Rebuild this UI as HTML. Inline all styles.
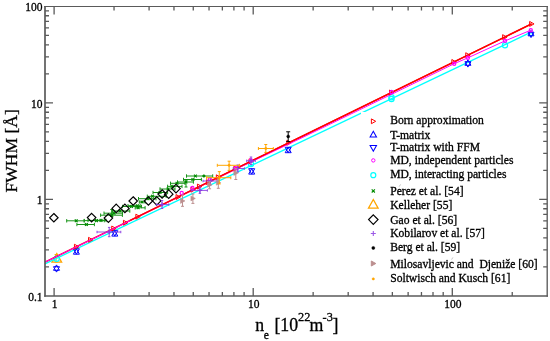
<!DOCTYPE html><html><head><meta charset="utf-8"><style>html,body{margin:0;padding:0;background:#fff;}svg{display:block;will-change:transform;}text{font-family:"Liberation Serif",serif;fill:#000;stroke:#000;stroke-width:0.3px;}</style></head><body>
<svg width="550" height="341" viewBox="0 0 550 341">
<rect x="0" y="0" width="550" height="341" fill="#fff"/>
<path d="M56.1 254.5L56.1 262M54.6 254.5L57.6 254.5M54.6 262L57.6 262" stroke="#ffa500" stroke-width="1"/>
<path d="M56.8 253.5L61.6 262.14L52 262.14Z" fill="none" stroke="#ffa500" stroke-width="1.3"/>
<polyline fill="none" stroke="#00ffff" stroke-width="1.3" stroke-linejoin="round" points="45,263.8 531,32.2"/>
<circle cx="56.7" cy="258.8" r="2.6" fill="none" stroke="#00ffff" stroke-width="1.2"/>
<circle cx="251" cy="164" r="2.6" fill="none" stroke="#00ffff" stroke-width="1.2"/>
<circle cx="391.5" cy="97.2" r="2.6" fill="none" stroke="#00ffff" stroke-width="1.2"/>
<circle cx="391.5" cy="99" r="2.6" fill="none" stroke="#00ffff" stroke-width="1.2"/>
<circle cx="505" cy="45.2" r="2.6" fill="none" stroke="#00ffff" stroke-width="1.2"/>
<circle cx="531" cy="34.2" r="1.5" fill="none" stroke="#00ffff" stroke-width="1.2"/>
<path d="M56.5 264.9L59.5 270.3L53.5 270.3Z" fill="none" stroke="#0000ff" stroke-width="1.0"/>
<path d="M76.4 248.8L79.4 254.2L73.4 254.2Z" fill="none" stroke="#0000ff" stroke-width="1.0"/>
<path d="M114.8 230.7L117.8 236.1L111.8 236.1Z" fill="none" stroke="#0000ff" stroke-width="1.0"/>
<path d="M251.7 168.7L254.7 174.1L248.7 174.1Z" fill="none" stroke="#0000ff" stroke-width="1.0"/>
<path d="M288.2 147.3L291.2 152.7L285.2 152.7Z" fill="none" stroke="#0000ff" stroke-width="1.0"/>
<path d="M467.9 59.9L470.9 65.3L464.9 65.3Z" fill="none" stroke="#0000ff" stroke-width="1.0"/>
<path d="M531 30.4L534 35.8L528 35.8Z" fill="none" stroke="#0000ff" stroke-width="1.0"/>
<path d="M56.5 272.1L59.5 266.7L53.5 266.7Z" fill="none" stroke="#0000ff" stroke-width="1.0"/>
<path d="M76.4 254.2L79.4 248.8L73.4 248.8Z" fill="none" stroke="#0000ff" stroke-width="1.0"/>
<path d="M114.8 236.1L117.8 230.7L111.8 230.7Z" fill="none" stroke="#0000ff" stroke-width="1.0"/>
<path d="M251.7 174.1L254.7 168.7L248.7 168.7Z" fill="none" stroke="#0000ff" stroke-width="1.0"/>
<path d="M288.2 152.7L291.2 147.3L285.2 147.3Z" fill="none" stroke="#0000ff" stroke-width="1.0"/>
<path d="M467.9 67.1L470.9 61.7L464.9 61.7Z" fill="none" stroke="#0000ff" stroke-width="1.0"/>
<path d="M531 37.6L534 32.2L528 32.2Z" fill="none" stroke="#0000ff" stroke-width="1.0"/>
<polyline fill="none" stroke="#ff0000" stroke-width="1.5" stroke-linejoin="round" points="45,262.1 531.6,23.9"/>
<path d="M74.44 244.28L78.85 246.73L74.44 249.18Z" fill="none" stroke="#ff0000" stroke-width="1.0"/>
<path d="M88.54 237.38L92.95 239.83L88.54 242.28Z" fill="none" stroke="#ff0000" stroke-width="1.0"/>
<path d="M111.74 226.02L116.15 228.47L111.74 230.92Z" fill="none" stroke="#ff0000" stroke-width="1.0"/>
<path d="M123.44 220.29L127.85 222.74L123.44 225.19Z" fill="none" stroke="#ff0000" stroke-width="1.0"/>
<path d="M135.84 214.22L140.25 216.67L135.84 219.12Z" fill="none" stroke="#ff0000" stroke-width="1.0"/>
<path d="M176.04 194.55L180.45 197L176.04 199.45Z" fill="none" stroke="#ff0000" stroke-width="1.0"/>
<path d="M190.94 187.25L195.35 189.7L190.94 192.15Z" fill="none" stroke="#ff0000" stroke-width="1.0"/>
<path d="M197.44 184.07L201.85 186.52L197.44 188.97Z" fill="none" stroke="#ff0000" stroke-width="1.0"/>
<path d="M206.44 179.67L210.85 182.12L206.44 184.57Z" fill="none" stroke="#ff0000" stroke-width="1.0"/>
<path d="M216.34 174.82L220.75 177.27L216.34 179.72Z" fill="none" stroke="#ff0000" stroke-width="1.0"/>
<path d="M233.84 166.25L238.25 168.7L233.84 171.15Z" fill="none" stroke="#ff0000" stroke-width="1.0"/>
<path d="M249.04 158.81L253.45 161.26L249.04 163.71Z" fill="none" stroke="#ff0000" stroke-width="1.0"/>
<path d="M286.84 140.31L291.25 142.76L286.84 145.21Z" fill="none" stroke="#ff0000" stroke-width="1.0"/>
<path d="M389.54 90.04L393.95 92.49L389.54 94.94Z" fill="none" stroke="#ff0000" stroke-width="1.0"/>
<path d="M451.84 59.54L456.25 61.99L451.84 64.44Z" fill="none" stroke="#ff0000" stroke-width="1.0"/>
<path d="M465.74 52.74L470.15 55.19L465.74 57.64Z" fill="none" stroke="#ff0000" stroke-width="1.0"/>
<path d="M502.64 34.68L507.05 37.13L502.64 39.58Z" fill="none" stroke="#ff0000" stroke-width="1.0"/>
<path d="M529.64 21.46L534.05 23.91L529.64 26.36Z" fill="none" stroke="#ff0000" stroke-width="1.0"/>
<polyline fill="none" stroke="#ff00ff" stroke-width="1.0" stroke-linejoin="round" points="45,262.1 100,235.4 200,186.3 300,138.7 391.5,94.3 454.2,63.7 467.9,57.8 505,40.9 530.8,30.2"/>
<polyline fill="none" stroke="#ff0000" stroke-width="1.3" stroke-linejoin="round" points="130,220.49 531.6,23.9"/>
<circle cx="181.7" cy="193" r="1.6" fill="none" stroke="#ff00ff" stroke-width="1.2"/>
<circle cx="192.4" cy="188" r="1.6" fill="none" stroke="#ff00ff" stroke-width="1.2"/>
<circle cx="209.9" cy="179.2" r="1.6" fill="none" stroke="#ff00ff" stroke-width="1.2"/>
<circle cx="235.8" cy="168.3" r="1.6" fill="none" stroke="#ff00ff" stroke-width="1.2"/>
<circle cx="251" cy="160.5" r="1.6" fill="none" stroke="#ff00ff" stroke-width="1.2"/>
<circle cx="391.5" cy="92" r="1.6" fill="none" stroke="#ff00ff" stroke-width="1.2"/>
<circle cx="454.2" cy="63.7" r="1.6" fill="none" stroke="#ff00ff" stroke-width="1.2"/>
<circle cx="467.9" cy="57.8" r="1.6" fill="none" stroke="#ff00ff" stroke-width="1.2"/>
<circle cx="505" cy="40.7" r="1.6" fill="none" stroke="#ff00ff" stroke-width="1.2"/>
<circle cx="530.8" cy="30.2" r="1.6" fill="none" stroke="#ff00ff" stroke-width="1.2"/>
<path d="M66.7 220.8L84.2 220.8M66.7 219.1L66.7 222.5M84.2 219.1L84.2 222.5" stroke="#189418" stroke-width="1.0"/>
<path d="M76.9 224.5L94.4 224.5M76.9 222.8L76.9 226.2M94.4 222.8L94.4 226.2" stroke="#189418" stroke-width="1.0"/>
<path d="M84.2 220.6L104.3 220.6M84.2 218.9L84.2 222.3M104.3 218.9L104.3 222.3" stroke="#189418" stroke-width="1.0"/>
<path d="M88 220.4L106 220.4M88 218.7L88 222.1M106 218.7L106 222.1" stroke="#189418" stroke-width="1.0"/>
<path d="M100.6 215.2L122.4 215.2M100.6 213.5L100.6 216.9M122.4 213.5L122.4 216.9" stroke="#189418" stroke-width="1.0"/>
<path d="M104 213.2L122.5 213.2M104 211.5L104 214.9M122.5 211.5L122.5 214.9" stroke="#189418" stroke-width="1.0"/>
<path d="M112.4 211L129.8 211M112.4 209.3L112.4 212.7M129.8 209.3L129.8 212.7" stroke="#189418" stroke-width="1.0"/>
<path d="M122.5 206.5L141.5 206.5M122.5 204.8L122.5 208.2M141.5 204.8L141.5 208.2" stroke="#189418" stroke-width="1.0"/>
<path d="M135.2 207.8L145.1 207.8M135.2 206.1L135.2 209.5M145.1 206.1L145.1 209.5" stroke="#189418" stroke-width="1.0"/>
<path d="M128 205.7L140.2 205.7M128 204L128 207.4M140.2 204L140.2 207.4" stroke="#189418" stroke-width="1.0"/>
<path d="M139.3 202L145.1 202M139.3 200.3L139.3 203.7M145.1 200.3L145.1 203.7" stroke="#189418" stroke-width="1.0"/>
<path d="M138.5 198.7L156 198.7M138.5 197L138.5 200.4M156 197L156 200.4" stroke="#189418" stroke-width="1.0"/>
<path d="M147.3 196.3L166.2 196.3M147.3 194.6L147.3 198M166.2 194.6L166.2 198" stroke="#189418" stroke-width="1.0"/>
<path d="M153 192.5L167.6 192.5M153 190.8L153 194.2M167.6 190.8L167.6 194.2" stroke="#189418" stroke-width="1.0"/>
<path d="M160 189L175 189M160 187.3L160 190.7M175 187.3L175 190.7" stroke="#189418" stroke-width="1.0"/>
<path d="M167.6 186.4L182 186.4M167.6 184.7L167.6 188.1M182 184.7L182 188.1" stroke="#189418" stroke-width="1.0"/>
<path d="M170.5 183.3L185 183.3M170.5 181.6L170.5 185M185 181.6L185 185" stroke="#189418" stroke-width="1.0"/>
<path d="M177.5 182L193.4 182M177.5 180.3L177.5 183.7M193.4 180.3L193.4 183.7" stroke="#189418" stroke-width="1.0"/>
<path d="M183.5 179.5L201.4 179.5M183.5 177.8L183.5 181.2M201.4 177.8L201.4 181.2" stroke="#189418" stroke-width="1.0"/>
<path d="M186.5 176L212.7 176M186.5 174.3L186.5 177.7M212.7 174.3L212.7 177.7" stroke="#189418" stroke-width="1.0"/>
<path d="M74.8 219.4L77.6 222.2M74.8 222.2L77.6 219.4" stroke="#008b00" stroke-width="1.2"/>
<path d="M85 223.1L87.8 225.9M85 225.9L87.8 223.1" stroke="#008b00" stroke-width="1.2"/>
<path d="M95.1 219.2L97.9 222M95.1 222L97.9 219.2" stroke="#008b00" stroke-width="1.2"/>
<path d="M99.6 219L102.4 221.8M99.6 221.8L102.4 219" stroke="#008b00" stroke-width="1.2"/>
<path d="M110.3 213.8L113.1 216.6M110.3 216.6L113.1 213.8" stroke="#008b00" stroke-width="1.2"/>
<path d="M112.6 211.8L115.4 214.6M112.6 214.6L115.4 211.8" stroke="#008b00" stroke-width="1.2"/>
<path d="M118.6 209.6L121.4 212.4M118.6 212.4L121.4 209.6" stroke="#008b00" stroke-width="1.2"/>
<path d="M130.1 205.1L132.9 207.9M130.1 207.9L132.9 205.1" stroke="#008b00" stroke-width="1.2"/>
<path d="M136.7 206.4L139.5 209.2M136.7 209.2L139.5 206.4" stroke="#008b00" stroke-width="1.2"/>
<path d="M135.9 204.3L138.7 207.1M135.9 207.1L138.7 204.3" stroke="#008b00" stroke-width="1.2"/>
<path d="M140.6 200.6L143.4 203.4M140.6 203.4L143.4 200.6" stroke="#008b00" stroke-width="1.2"/>
<path d="M146.6 197.3L149.4 200.1M146.6 200.1L149.4 197.3" stroke="#008b00" stroke-width="1.2"/>
<path d="M151.1 194.9L153.9 197.7M151.1 197.7L153.9 194.9" stroke="#008b00" stroke-width="1.2"/>
<path d="M158.6 191.1L161.4 193.9M158.6 193.9L161.4 191.1" stroke="#008b00" stroke-width="1.2"/>
<path d="M166.6 187.6L169.4 190.4M166.6 190.4L169.4 187.6" stroke="#008b00" stroke-width="1.2"/>
<path d="M170.6 185L173.4 187.8M170.6 187.8L173.4 185" stroke="#008b00" stroke-width="1.2"/>
<path d="M175.6 181.9L178.4 184.7M175.6 184.7L178.4 181.9" stroke="#008b00" stroke-width="1.2"/>
<path d="M184.6 180.6L187.4 183.4M184.6 183.4L187.4 180.6" stroke="#008b00" stroke-width="1.2"/>
<path d="M191.5 178.1L194.3 180.9M191.5 180.9L194.3 178.1" stroke="#008b00" stroke-width="1.2"/>
<path d="M194 174.6L196.8 177.4M194 177.4L196.8 174.6" stroke="#008b00" stroke-width="1.2"/>
<circle cx="203.9" cy="176" r="1.3" fill="#008b00" stroke="#008b00" stroke-width="0.5"/>
<path d="M186 180L186 187M184.5 180L187.5 180M184.5 187L187.5 187" stroke="#008b00" stroke-width="0.9"/>
<path d="M111.7 209.5L111.7 216.5M110.2 209.5L113.2 209.5M110.2 216.5L113.2 216.5" stroke="#008b00" stroke-width="0.9"/>
<path d="M53.85 213.5L58.1 217.75L53.85 222L49.6 217.75Z" fill="none" stroke="#000" stroke-width="1.18"/>
<path d="M91.6 213.35L95.85 217.6L91.6 221.85L87.35 217.6Z" fill="none" stroke="#000" stroke-width="1.18"/>
<path d="M108.4 213.85L112.65 218.1L108.4 222.35L104.15 218.1Z" fill="none" stroke="#000" stroke-width="1.18"/>
<path d="M116.2 204.15L120.45 208.4L116.2 212.65L111.95 208.4Z" fill="none" stroke="#000" stroke-width="1.18"/>
<path d="M124.9 204.15L129.15 208.4L124.9 212.65L120.65 208.4Z" fill="none" stroke="#000" stroke-width="1.18"/>
<path d="M133.2 196.75L137.45 201L133.2 205.25L128.95 201Z" fill="none" stroke="#000" stroke-width="1.18"/>
<path d="M148.4 196.75L152.65 201L148.4 205.25L144.15 201Z" fill="none" stroke="#000" stroke-width="1.18"/>
<path d="M156.7 196.55L160.95 200.8L156.7 205.05L152.45 200.8Z" fill="none" stroke="#000" stroke-width="1.18"/>
<path d="M162.1 189.75L166.35 194L162.1 198.25L157.85 194Z" fill="none" stroke="#000" stroke-width="1.18"/>
<path d="M168.7 189.95L172.95 194.2L168.7 198.45L164.45 194.2Z" fill="none" stroke="#000" stroke-width="1.18"/>
<path d="M176 184.35L180.25 188.6L176 192.85L171.75 188.6Z" fill="none" stroke="#000" stroke-width="1.18"/>
<path d="M97 232L120.8 232M97 230.75L97 233.25M120.8 230.75L120.8 233.25" stroke="#8a3ce0" stroke-width="0.9"/>
<path d="M109.2 227.4L109.2 236.7M107.95 227.4L110.45 227.4M107.95 236.7L110.45 236.7" stroke="#8a3ce0" stroke-width="0.9"/>
<path d="M106.95 232L111.45 232M109.2 229.75L109.2 234.25" stroke="#8a3ce0" stroke-width="1.2"/>
<path d="M156.3 204.6L168.8 204.6M156.3 203.35L156.3 205.85M168.8 203.35L168.8 205.85" stroke="#8a3ce0" stroke-width="0.9"/>
<path d="M162 200.5L162 208.5M160.75 200.5L163.25 200.5M160.75 208.5L163.25 208.5" stroke="#8a3ce0" stroke-width="0.9"/>
<path d="M159.75 204.6L164.25 204.6M162 202.35L162 206.85" stroke="#8a3ce0" stroke-width="1.2"/>
<path d="M191.4 190.4L207.4 190.4M191.4 189.15L191.4 191.65M207.4 189.15L207.4 191.65" stroke="#8a3ce0" stroke-width="0.9"/>
<path d="M199.9 187L199.9 193.4M198.65 187L201.15 187M198.65 193.4L201.15 193.4" stroke="#8a3ce0" stroke-width="0.9"/>
<path d="M197.65 190.4L202.15 190.4M199.9 188.15L199.9 192.65" stroke="#8a3ce0" stroke-width="1.2"/>
<path d="M203 181L218 181M203 179.75L203 182.25M218 179.75L218 182.25" stroke="#8a3ce0" stroke-width="0.9"/>
<path d="M210.3 177.5L210.3 185M209.05 177.5L211.55 177.5M209.05 185L211.55 185" stroke="#8a3ce0" stroke-width="0.9"/>
<path d="M208.05 181L212.55 181M210.3 178.75L210.3 183.25" stroke="#8a3ce0" stroke-width="1.2"/>
<path d="M233.2 168.5L244.4 168.5M233.2 167.25L233.2 169.75M244.4 167.25L244.4 169.75" stroke="#8a3ce0" stroke-width="0.9"/>
<path d="M237.8 165L237.8 172M236.55 165L239.05 165M236.55 172L239.05 172" stroke="#8a3ce0" stroke-width="0.9"/>
<path d="M235.55 168.5L240.05 168.5M237.8 166.25L237.8 170.75" stroke="#8a3ce0" stroke-width="1.2"/>
<path d="M246.7 160.8L255.3 160.8M246.7 159.55L246.7 162.05M255.3 159.55L255.3 162.05" stroke="#8a3ce0" stroke-width="0.9"/>
<path d="M251 157L251 164.5M249.75 157L252.25 157M249.75 164.5L252.25 164.5" stroke="#8a3ce0" stroke-width="0.9"/>
<path d="M248.75 160.8L253.25 160.8M251 158.55L251 163.05" stroke="#8a3ce0" stroke-width="1.2"/>
<path d="M288.2 131.8L288.2 141.6M286.2 131.8L290.2 131.8M286.2 141.6L290.2 141.6" stroke="#000" stroke-width="1"/>
<circle cx="288.2" cy="136.4" r="1.5" fill="#000" stroke="#000" stroke-width="0.4"/>
<path d="M182.5 195L182.5 206.3M181 195L184 195M181 206.3L184 206.3" stroke="#bc8f8f" stroke-width="1"/>
<path d="M180.5 198.4L185 200.9L180.5 203.4Z" fill="#bc8f8f" stroke="#bc8f8f" stroke-width="0.5"/>
<path d="M192.9 194L192.9 203.4M191.4 194L194.4 194M191.4 203.4L194.4 203.4" stroke="#bc8f8f" stroke-width="1"/>
<path d="M190.9 195.9L195.4 198.4L190.9 200.9Z" fill="#bc8f8f" stroke="#bc8f8f" stroke-width="0.5"/>
<path d="M209.6 181.7L209.6 188.8M208.1 181.7L211.1 181.7M208.1 188.8L211.1 188.8" stroke="#bc8f8f" stroke-width="1"/>
<path d="M207.6 182.2L212.1 184.7L207.6 187.2Z" fill="#bc8f8f" stroke="#bc8f8f" stroke-width="0.5"/>
<path d="M218.3 179.1L218.3 188.3M216.8 179.1L219.8 179.1M216.8 188.3L219.8 188.3" stroke="#bc8f8f" stroke-width="1"/>
<path d="M216.3 180.2L220.8 182.7L216.3 185.2Z" fill="#bc8f8f" stroke="#bc8f8f" stroke-width="0.5"/>
<path d="M235.8 168.5L235.8 179.5M234.3 168.5L237.3 168.5M234.3 179.5L237.3 179.5" stroke="#bc8f8f" stroke-width="1"/>
<path d="M233.8 170.5L238.3 173L233.8 175.5Z" fill="#bc8f8f" stroke="#bc8f8f" stroke-width="0.5"/>
<path d="M217.3 165.3L239.4 165.3M217.3 163.8L217.3 166.8M239.4 163.8L239.4 166.8" stroke="#ffa500" stroke-width="1"/>
<path d="M229.1 161.2L229.1 170.4M227.6 161.2L230.6 161.2M227.6 170.4L230.6 170.4" stroke="#ffa500" stroke-width="1"/>
<circle cx="229.1" cy="165.3" r="1.2" fill="#ffa500" stroke="#ffa500" stroke-width="0.4"/>
<path d="M206.6 177.7L230.8 177.7M206.6 176.2L206.6 179.2M230.8 176.2L230.8 179.2" stroke="#ffa500" stroke-width="1"/>
<path d="M219.3 171.6L219.3 183.9M217.8 171.6L220.8 171.6M217.8 183.9L220.8 183.9" stroke="#ffa500" stroke-width="1"/>
<circle cx="219.3" cy="177.7" r="1.2" fill="#ffa500" stroke="#ffa500" stroke-width="0.4"/>
<path d="M258.4 148.5L273.3 148.5M258.4 147L258.4 150M273.3 147L273.3 150" stroke="#ffa500" stroke-width="1"/>
<path d="M265.8 144.5L265.8 152.4M264.3 144.5L267.3 144.5M264.3 152.4L267.3 152.4" stroke="#ffa500" stroke-width="1"/>
<circle cx="265.8" cy="148.5" r="1.2" fill="#ffa500" stroke="#ffa500" stroke-width="0.4"/>
<rect x="361" y="112" width="180" height="178" fill="#fff"/>
<text x="390.2" y="124.1" font-size="11.6" xml:space="preserve">Born approximation</text>
<path d="M371.38 118.9L375.7 121.3L371.38 123.7Z" fill="none" stroke="#ff0000" stroke-width="1.0"/>
<text x="390.2" y="138.7" font-size="11.6" xml:space="preserve">T-matrix</text>
<path d="M373.3 131.3L376.5 137.06L370.1 137.06Z" fill="none" stroke="#0000ff" stroke-width="1.05"/>
<text x="390.2" y="150.7" font-size="11.6" xml:space="preserve">T-matrix with FFM</text>
<path d="M373.3 151.2L376.5 145.44L370.1 145.44Z" fill="none" stroke="#0000ff" stroke-width="1.05"/>
<text x="390.2" y="163.5" font-size="11.6" xml:space="preserve">MD, independent particles</text>
<circle cx="373.3" cy="160.4" r="1.7" fill="none" stroke="#ff00ff" stroke-width="1"/>
<text x="390.2" y="178.2" font-size="11.6" xml:space="preserve">MD, interacting particles</text>
<circle cx="373.3" cy="175.2" r="2.5" fill="none" stroke="#00ffff" stroke-width="1.2"/>
<text x="390.2" y="195.0" font-size="11.6" xml:space="preserve">Perez et al. [54]</text>
<path d="M371.7 189.3L374.9 192.5M371.7 192.5L374.9 189.3" stroke="#008b00" stroke-width="1.1"/>
<text x="390.2" y="209.0" font-size="11.6" xml:space="preserve">Kelleher [55]</text>
<path d="M373.3 199.5L378.1 208.14L368.5 208.14Z" fill="none" stroke="#ffa500" stroke-width="1.3"/>
<text x="390.2" y="223.7" font-size="11.6" xml:space="preserve">Gao et al. [56]</text>
<path d="M373.3 214.9L378 219.6L373.3 224.3L368.6 219.6Z" fill="none" stroke="#000" stroke-width="1.2"/>
<text x="390.2" y="236.7" font-size="11.6" xml:space="preserve">Kobilarov et al. [57]</text>
<path d="M370.8 233.5L375.8 233.5M373.3 231L373.3 236" stroke="#9b59e6" stroke-width="1.1"/>
<text x="390.2" y="250.7" font-size="11.6" xml:space="preserve">Berg et al. [59]</text>
<circle cx="373.3" cy="247.9" r="1.5" fill="#000" stroke="#000" stroke-width="0.5"/>
<text x="390.2" y="268.2" font-size="11.6" xml:space="preserve">Milosavljevic and  Djeniže [60]</text>
<path d="M371.3 261L375.8 263.5L371.3 266Z" fill="#bc8f8f" stroke="#bc8f8f" stroke-width="1.0"/>
<text x="390.2" y="282.3" font-size="11.6" xml:space="preserve">Soltwisch and Kusch [61]</text>
<circle cx="373.3" cy="278.9" r="1.2" fill="#ffa500" stroke="#ffa500" stroke-width="0.4"/>
<path d="M399.2 186.6L400.6 184.4M451.6 259.6L452.9 257.4" stroke="#b8b8b8" stroke-width="0.8"/>
<path d="M54.1 296L54.1 288M54.1 6.5L54.1 14.5M114.04 296L114.04 292M114.04 6.5L114.04 10.5M149.09 296L149.09 292M149.09 6.5L149.09 10.5M173.97 296L173.97 292M173.97 6.5L173.97 10.5M193.26 296L193.26 292M193.26 6.5L193.26 10.5M209.03 296L209.03 292M209.03 6.5L209.03 10.5M222.36 296L222.36 292M222.36 6.5L222.36 10.5M233.91 296L233.91 292M233.91 6.5L233.91 10.5M244.09 296L244.09 292M244.09 6.5L244.09 10.5M253.2 296L253.2 288M253.2 6.5L253.2 14.5M313.14 296L313.14 292M313.14 6.5L313.14 10.5M348.19 296L348.19 292M348.19 6.5L348.19 10.5M373.07 296L373.07 292M373.07 6.5L373.07 10.5M392.36 296L392.36 292M392.36 6.5L392.36 10.5M408.13 296L408.13 292M408.13 6.5L408.13 10.5M421.46 296L421.46 292M421.46 6.5L421.46 10.5M433.01 296L433.01 292M433.01 6.5L433.01 10.5M443.19 296L443.19 292M443.19 6.5L443.19 10.5M452.3 296L452.3 288M452.3 6.5L452.3 14.5M512.24 296L512.24 292M512.24 6.5L512.24 10.5M45 266.85L49 266.85M547.2 266.85L543.2 266.85M45 249.86L49 249.86M547.2 249.86L543.2 249.86M45 237.8L49 237.8M547.2 237.8L543.2 237.8M45 228.45L49 228.45M547.2 228.45L543.2 228.45M45 220.81L49 220.81M547.2 220.81L543.2 220.81M45 214.35L49 214.35M547.2 214.35L543.2 214.35M45 208.75L49 208.75M547.2 208.75L543.2 208.75M45 203.82L49 203.82M547.2 203.82L543.2 203.82M45 199.4L49 199.4M547.2 199.4L543.2 199.4M45 199.4L53 199.4M547.2 199.4L539.2 199.4M45 170.35L49 170.35M547.2 170.35L543.2 170.35M45 153.36L49 153.36M547.2 153.36L543.2 153.36M45 141.3L49 141.3M547.2 141.3L543.2 141.3M45 131.95L49 131.95M547.2 131.95L543.2 131.95M45 124.31L49 124.31M547.2 124.31L543.2 124.31M45 117.85L49 117.85M547.2 117.85L543.2 117.85M45 112.25L49 112.25M547.2 112.25L543.2 112.25M45 107.32L49 107.32M547.2 107.32L543.2 107.32M45 102.9L49 102.9M547.2 102.9L543.2 102.9M45 102.9L53 102.9M547.2 102.9L539.2 102.9M45 73.85L49 73.85M547.2 73.85L543.2 73.85M45 56.86L49 56.86M547.2 56.86L543.2 56.86M45 44.8L49 44.8M547.2 44.8L543.2 44.8M45 35.45L49 35.45M547.2 35.45L543.2 35.45M45 27.81L49 27.81M547.2 27.81L543.2 27.81M45 21.35L49 21.35M547.2 21.35L543.2 21.35M45 15.75L49 15.75M547.2 15.75L543.2 15.75M45 10.82L49 10.82M547.2 10.82L543.2 10.82" stroke="#5a5a5a" stroke-width="1.3" fill="none"/>
<path d="M44.2 6.5L547.9000000000001 6.5" stroke="#5a5a5a" stroke-width="1.2"/>
<path d="M44.2 296.0L547.9000000000001 296.0" stroke="#5a5a5a" stroke-width="1.7"/>
<path d="M45.0 5.9L45.0 296.85" stroke="#5a5a5a" stroke-width="1.7"/>
<path d="M547.2 5.9L547.2 296.85" stroke="#5a5a5a" stroke-width="1.35"/>
<text x="54.6" y="308" font-size="11.5" text-anchor="middle">1</text>
<text x="253.7" y="308" font-size="11.5" text-anchor="middle">10</text>
<text x="452.8" y="308" font-size="11.5" text-anchor="middle">100</text>
<text x="42.6" y="300.6" font-size="11.5" text-anchor="end">0.1</text>
<text x="42.6" y="204.1" font-size="11.5" text-anchor="end">1</text>
<text x="42.6" y="107.6" font-size="11.5" text-anchor="end">10</text>
<text x="42.6" y="11.1" font-size="11.5" text-anchor="end">100</text>
<text x="255.2" y="330.7" font-size="17.8">n</text>
<text x="263.8" y="338.8" font-size="11.6">e</text>
<text x="274.6" y="330.7" font-size="17.8">[</text>
<text x="280.3" y="330.7" font-size="17.8">10</text>
<text x="298.1" y="320.7" font-size="12.4">22</text>
<text x="309.4" y="330.7" font-size="17.8">m</text>
<text x="322.6" y="320.7" font-size="12.4">-3</text>
<text x="332.4" y="330.7" font-size="17.8">]</text>
<text transform="translate(16.9,192.4) rotate(-90)" x="0" y="0" font-size="17.5">FWHM [Å]</text>
</svg></body></html>
